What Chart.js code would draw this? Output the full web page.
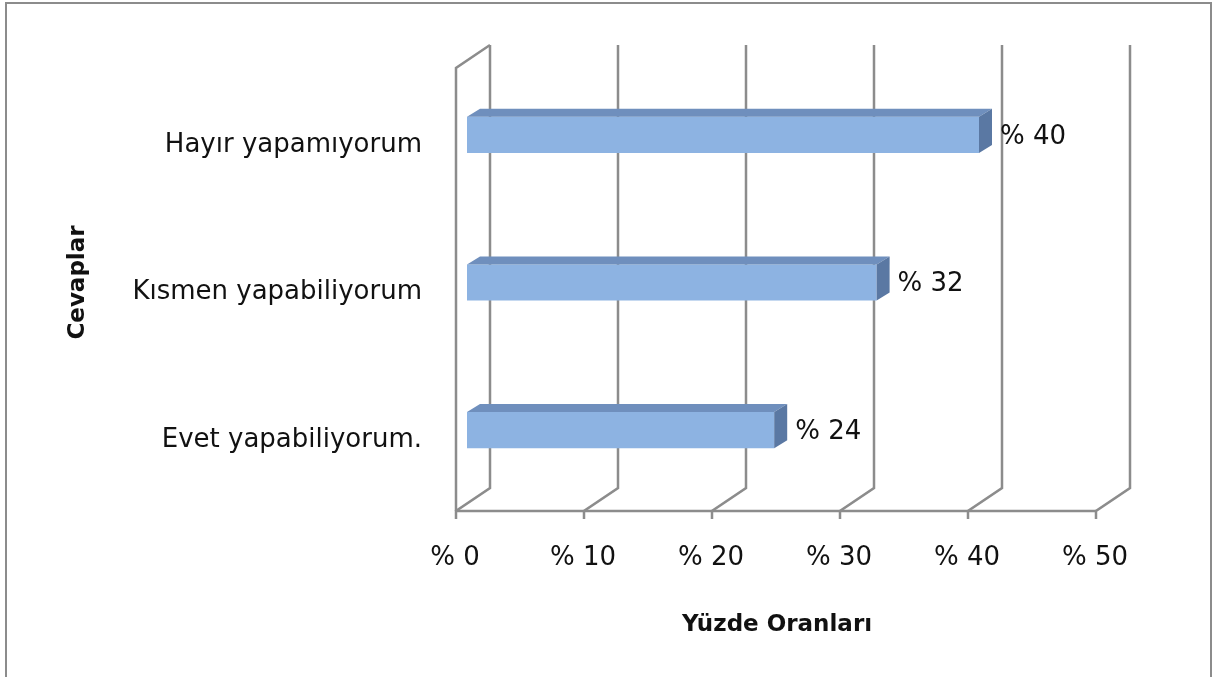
<!DOCTYPE html>
<html>
<head>
<meta charset="utf-8">
<script src="https://cdn.jsdelivr.net/npm/chart.js@4.4.1/dist/chart.umd.min.js"></script>
<style>
  html, body { margin: 0; padding: 0; background: #fff; overflow: hidden; }
  #frame { position: absolute; left: 5px; top: 2px; width: 1203px; height: 700px;
           border: 2px solid #8c8c8c; border-bottom: none; pointer-events: none; }
  #chart { position: absolute; left: 0; top: 0; }
</style>
</head>
<body>
<canvas id="chart" width="1212" height="677"></canvas>
<div id="frame"></div>
<script>
'use strict';

// Data
var categories = ["Hayır yapamıyorum", "Kısmen yapabiliyorum", "Evet yapabiliyorum."];
var percentages = [40, 32, 24];
var valueTicks = [0, 10, 20, 30, 40, 50];

var fontFamily = '"DejaVu Sans", "Noto Sans", sans-serif';
var gridColor = '#8c8c8c';
var barFront = '#8db3e2';
var barTop = '#6f8fbd';
var barSide = '#5a78a3';

// wall geometry (offsets from the chart area)
var DEPTH_X = 34, DEPTH_Y = -23, FRONT_SHIFT = -11;

// ------------------------------------------------------- //
// 3D walls behind the bars
// ------------------------------------------------------ //
var wallPlugin = {
    id: 'walls',
    beforeDatasetsDraw: function (chart) {
        var ctx = chart.ctx, x = chart.scales.x, a = chart.chartArea;
        var floorY = a.bottom + 7;
        var backBottom = floorY + DEPTH_Y;
        var backTop = a.top - 16;
        ctx.save();
        ctx.strokeStyle = gridColor;
        ctx.lineWidth = 2.5;
        ctx.lineJoin = 'miter';
        valueTicks.forEach(function (v) {
            var fx = x.getPixelForValue(v) + FRONT_SHIFT;
            var bx = fx + DEPTH_X;
            ctx.beginPath();
            ctx.moveTo(fx, floorY + 8);
            ctx.lineTo(fx, floorY);
            ctx.lineTo(bx, backBottom);
            ctx.lineTo(bx, backTop);
            ctx.stroke();
        });
        // left side wall
        var f0 = x.getPixelForValue(0) + FRONT_SHIFT;
        ctx.beginPath();
        ctx.moveTo(f0, floorY);
        ctx.lineTo(f0, backTop - DEPTH_Y);
        ctx.lineTo(f0 + DEPTH_X, backTop);
        ctx.stroke();
        // front floor edge
        ctx.beginPath();
        ctx.moveTo(f0, floorY);
        ctx.lineTo(x.getPixelForValue(50) + FRONT_SHIFT, floorY);
        ctx.stroke();
        ctx.restore();
    }
};

// ------------------------------------------------------- //
// Bar depth faces, value labels, axis title
// ------------------------------------------------------ //
var depthPlugin = {
    id: 'barDepth',
    afterDatasetsDraw: function (chart) {
        var ctx = chart.ctx;
        var dx = 13, dy = -8;
        ctx.save();
        chart.getDatasetMeta(0).data.forEach(function (bar, i) {
            var p = bar.getProps(['x', 'y', 'base', 'height'], true);
            var top = p.y - p.height / 2, bottom = p.y + p.height / 2;
            ctx.fillStyle = barTop;
            ctx.beginPath();
            ctx.moveTo(p.base, top);
            ctx.lineTo(p.base + dx, top + dy);
            ctx.lineTo(p.x + dx, top + dy);
            ctx.lineTo(p.x, top);
            ctx.closePath();
            ctx.fill();
            ctx.fillStyle = barSide;
            ctx.beginPath();
            ctx.moveTo(p.x, top);
            ctx.lineTo(p.x + dx, top + dy);
            ctx.lineTo(p.x + dx, bottom + dy);
            ctx.lineTo(p.x, bottom);
            ctx.closePath();
            ctx.fill();
            ctx.fillStyle = '#111';
            ctx.font = '26px ' + fontFamily;
            ctx.textAlign = 'left';
            ctx.textBaseline = 'middle';
            ctx.fillText('% ' + percentages[i], p.x + dx + 8, p.y + 2);
        });
        ctx.font = 'bold 23px ' + fontFamily;
        ctx.textAlign = 'center';
        ctx.textBaseline = 'middle';
        ctx.fillText('Yüzde Oranları', 777, 625);
        ctx.restore();
    }
};

var CHART = document.getElementById('chart');
var myBarChart = new Chart(CHART, {
    type: 'bar',
    plugins: [wallPlugin, depthPlugin],
    data: {
        labels: categories,
        datasets: [
            {
                data: percentages,
                backgroundColor: barFront,
                borderWidth: 0,
                categoryPercentage: 1,
                barPercentage: 0.245
            }
        ]
    },
    options: {
        indexAxis: 'y',
        responsive: false,
        animation: false,
        devicePixelRatio: 1,
        layout: {
            padding: { left: 0, right: 105, top: 61, bottom: 0 }
        },
        plugins: {
            legend: { display: false },
            tooltip: { enabled: false }
        },
        scales: {
            x: {
                min: 0,
                max: 50,
                grid: { display: false, drawTicks: false },
                border: { display: false },
                ticks: {
                    stepSize: 10,
                    padding: 39,
                    labelOffset: -12,
                    color: '#111',
                    font: { family: fontFamily, size: 26 },
                    callback: function (v) { return '% ' + v; }
                },
                afterFit: function (scale) { scale.height = 677 - 504; }
            },
            y: {
                grid: { display: false, drawTicks: false },
                border: { display: false },
                ticks: {
                    padding: 45,
                    labelOffset: 10,
                    color: '#111',
                    font: { family: fontFamily, size: 26 }
                },
                title: {
                    display: true,
                    text: 'Cevaplar',
                    color: '#111',
                    font: { family: fontFamily, size: 23, weight: 'bold' },
                    padding: { top: 64, bottom: 0 }
                },
                afterFit: function (scale) { scale.width = 467; }
            }
        }
    }
});
</script>
</body>
</html>
